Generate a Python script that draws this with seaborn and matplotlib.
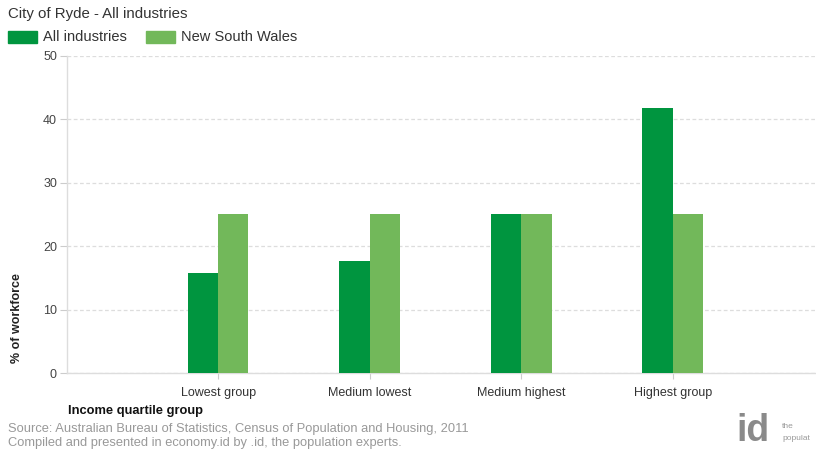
import matplotlib
matplotlib.use("Agg")
import matplotlib.pyplot as plt
import seaborn as sns
import pandas as pd

categories = ["Lowest group", "Medium lowest", "Medium highest", "Highest group"]
series_names = ["All industries", "New South Wales"]
all_industries = [15.7, 17.6, 25.0, 41.7]
new_south_wales = [25.0, 25.0, 25.0, 25.0]
yticks = [0, 10, 20, 30, 40, 50]
colors = ["#00953F", "#72B85A"]

df = pd.DataFrame({
    "category": categories * 2,
    "series": [series_names[0]] * 4 + [series_names[1]] * 4,
    "value": all_industries + new_south_wales,
})

sns.set_theme(style="white")
plt.rcParams["font.family"] = ["Liberation Sans", "DejaVu Sans"]

fig = plt.figure(figsize=(8.16, 4.5), dpi=100)
ax = fig.add_axes([0.0817, 0.171, 0.9173, 0.705])

sns.barplot(data=df, x="category", y="value", hue="series", order=categories,
            hue_order=series_names, palette=colors, width=0.4, gap=0,
            saturation=1, edgecolor="none", linewidth=0, legend=False, ax=ax,
            zorder=3)

ax.set_xlim(-1.0, 3.94)
ax.set_ylim(0, 50)
ax.set_yticks(yticks)
ax.set_yticklabels([str(t) for t in yticks], fontsize=9, color="#444444")
ax.set_xticks(range(len(categories)))
ax.set_xticklabels(categories, fontsize=9, color="#333333")
ax.tick_params(axis="y", length=5, color="#cccccc", width=0.8, pad=2, left=True)
ax.tick_params(axis="x", length=4, color="#cccccc", width=0.8, pad=6, bottom=True)
ax.set_xlabel("")
ax.set_ylabel("")
ax.yaxis.grid(True, linestyle=(0, (3, 2)), color="#dddddd", linewidth=0.9, zorder=0)
ax.set_axisbelow(True)
for s in ["top", "right"]:
    ax.spines[s].set_visible(False)
ax.spines["left"].set_color("#dddddd")
ax.spines["bottom"].set_color("#dddddd")
ax.spines["left"].set_linewidth(1.0)
ax.spines["bottom"].set_linewidth(1.0)

# Title
fig.text(8/816, 1 - 14/450, "City of Ryde - All industries", fontsize=10.8,
         color="#333333", va="center", ha="left")

# Legend
from matplotlib.patches import Rectangle
leg_y = 1 - 43/450
ph = 12/450
fig.patches.append(Rectangle((8/816, leg_y), 29/816, ph, transform=fig.transFigure,
                             color=colors[0], figure=fig))
fig.text(43/816, leg_y + ph/2, series_names[0], fontsize=10.5, color="#333333", va="center")
fig.patches.append(Rectangle((146/816, leg_y), 29/816, ph, transform=fig.transFigure,
                             color=colors[1], figure=fig))
fig.text(181/816, leg_y + ph/2, series_names[1], fontsize=10.5, color="#333333", va="center")

# Axis labels
fig.text(17/816, 1 - 318/450, "% of workforce", rotation=90, fontsize=9,
         fontweight="bold", color="#222222", va="center", ha="center")
fig.text(68/816, 1 - 411/450, "Income quartile group", fontsize=9.3,
         fontweight="bold", color="#111111", va="center", ha="left")

# Source
fig.text(8/816, 1 - 429/450, "Source: Australian Bureau of Statistics, Census of Population and Housing, 2011",
         fontsize=9.3, color="#999999", va="center", ha="left")
fig.text(8/816, 1 - 443/450, "Compiled and presented in economy.id by .id, the population experts.",
         fontsize=9.3, color="#999999", va="center", ha="left")

# Logo
fig.text(736/816, 1/450, "id", fontsize=27, fontweight="bold", color="#8a8a8a",
         va="bottom", ha="left")
fig.text(782/816, 1 - 426/450, "the", fontsize=6, color="#999999", va="center", ha="left")
fig.text(782/816, 1 - 438/450, "populat", fontsize=6, color="#999999", va="center", ha="left")

fig.savefig("out.png", dpi=100)
